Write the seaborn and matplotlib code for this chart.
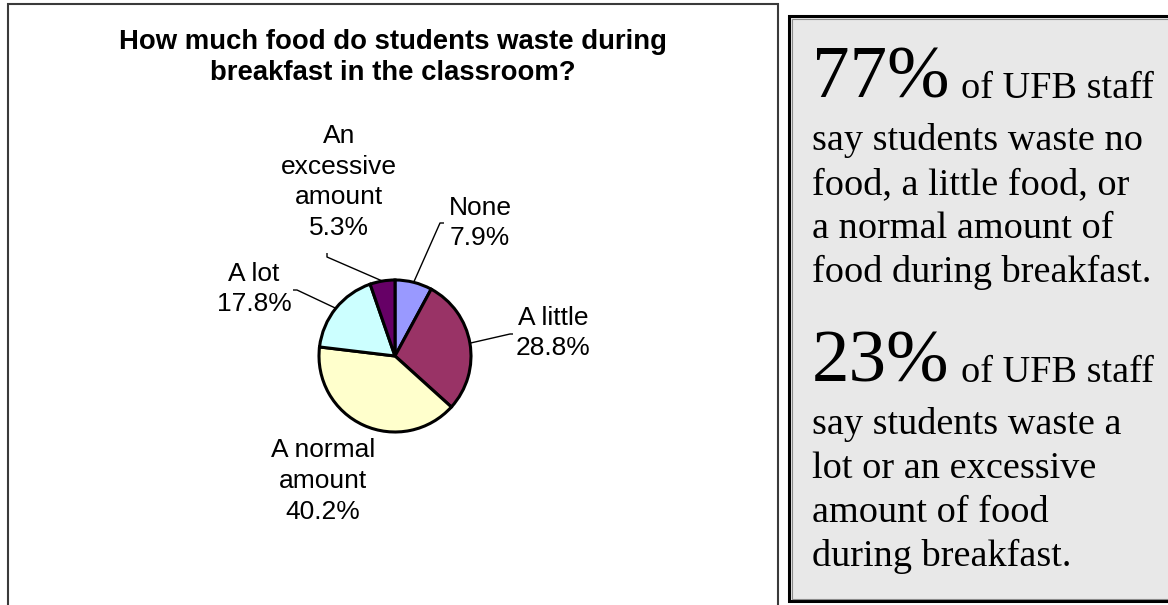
import matplotlib
matplotlib.use("Agg")
import matplotlib.pyplot as plt
import seaborn as sns
import numpy as np
from matplotlib.patches import Rectangle

# --- Data ---
categories = ["None", "A little", "A normal amount", "A lot", "An excessive amount"]
label_names = ["None", "A little", "A normal\namount", "A lot", "An\nexcessive\namount"]
percents = [7.9, 28.8, 40.2, 17.8, 5.3]
slice_colors = ["#9999FF", "#993366", "#FFFFCC", "#CCFFFF", "#660066"]

title_lines = ["How much food do students waste during", "breakfast in the classroom?"]

share_low = 77
share_high = 23
low_lines = ["say students waste no", "food, a little food, or",
             "a normal amount of", "food during breakfast."]
high_lines = ["say students waste a", "lot or an excessive",
              "amount of food", "during breakfast."]

# --- Layout (pixels from top-left) ---
W, H = 1168, 605
PIE_X, PIE_Y, PIE_R = 395, 356, 76
label_pos = [(480, 223), (553, 333), (323, 481), (254, 289), (339, 182)]
leader_elbow = [(440, 223), (510, 334), None, (297, 290), (327, 257)]
leader_end = [(444, 223), (513, 334), None, (293, 290), (327, 253)]


def py(y):
    # pixel row (from top) -> data y
    return H - y


sns.set_theme(style="white")
plt.rcParams['font.family'] = ['Liberation Sans', 'DejaVu Sans']

fig = plt.figure(figsize=(W / 100, H / 100), dpi=100)
ax = fig.add_axes([0, 0, 1, 1])

cx, cy = PIE_X, py(PIE_Y)
wedges, _ = ax.pie(percents, colors=sns.color_palette(slice_colors), startangle=90,
                   counterclock=False, center=(cx, cy), radius=PIE_R,
                   wedgeprops=dict(edgecolor="black", linewidth=2.2))
ax.set_xlim(0, W)
ax.set_ylim(0, H)
ax.set_aspect("equal")
ax.axis("off")

# chart area border (bottom runs off the image)
ax.add_patch(Rectangle((8, -50), 770, py(4) + 50, fill=False,
                       edgecolor="#3a3a3a", linewidth=1.5, clip_on=True))

# title
for i, line in enumerate(title_lines):
    ax.text(393, py(49 + 31 * i), line, ha="center", va="baseline",
            fontsize=19.8, fontweight="bold", color="black")

# slice labels and leader lines
for w, name, pct, pos, elb, end in zip(wedges, label_names, percents,
                                       label_pos, leader_elbow, leader_end):
    ax.text(pos[0], py(pos[1]), f"{name}\n{pct:.1f}%", ha="center", va="center",
            fontsize=19, linespacing=1.36, color="black")
    if elb is None:
        continue
    ang = np.deg2rad((w.theta1 + w.theta2) / 2)
    sx, sy = cx + PIE_R * np.cos(ang), cy + PIE_R * np.sin(ang)
    ax.plot([sx, elb[0], end[0]], [sy, py(elb[1]), py(end[1])],
            color="black", linewidth=1.0, solid_capstyle="butt")

# right-hand text box
ax.add_patch(Rectangle((789, py(601)), 420, 585, facecolor="#E8E8E8",
                       edgecolor="black", linewidth=2.2, zorder=1))
ax.add_patch(Rectangle((791.5, py(598.5)), 420, 580, fill=False,
                       edgecolor="#8a8a8a", linewidth=0.8, zorder=1))

serif = ['Liberation Serif', 'DejaVu Serif']
renderer = fig.canvas.get_renderer()
TX = 812
for share, lines, base in [(share_low, low_lines, 98), (share_high, high_lines, 382)]:
    big = ax.text(TX, py(base), f"{share}%", ha="left", va="baseline",
                  fontsize=54, family=serif, color="black", zorder=3)
    bb = big.get_window_extent(renderer)
    ax.text(bb.x1 + 11, py(base), "of UFB staff", ha="left", va="baseline",
            fontsize=27.5, family=serif, color="black", zorder=3)
    for j, line in enumerate(lines):
        ax.text(TX, py(base + 52 + 44 * j), line, ha="left", va="baseline",
                fontsize=27.5, family=serif, color="black", zorder=3)

fig.savefig("out.png", dpi=100)
